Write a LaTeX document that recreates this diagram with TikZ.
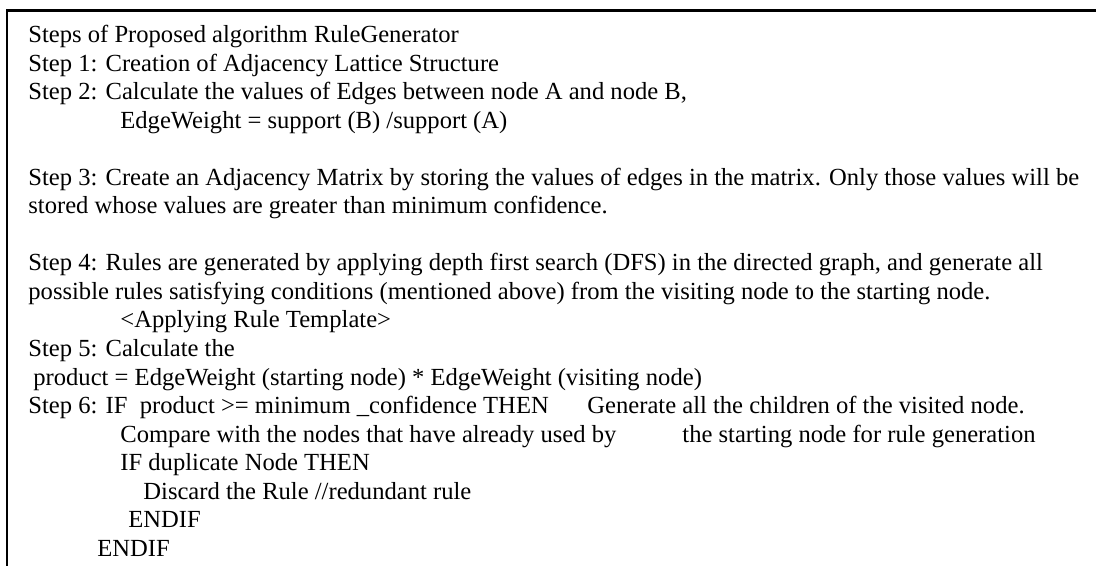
\documentclass[tikz,border=0pt]{standalone}
\usepackage{fontspec}
\setmainfont{Liberation Serif}
\usepackage{tikz}

\tikzset{
  algline/.style={anchor=base west, inner sep=0pt, font=\fontsize{12.3}{14.25}\selectfont},
  frameline/.style={line width=1.25pt}
}

\begin{document}
\begin{tikzpicture}[x=0.5pt, y=-0.5pt]
	\useasboundingbox (0, 0) rectangle (1096, 566) ;
\draw[frameline] (7, 566) -- (7, 10.7) -- (1096, 10.7) ; % frame 
\node[algline] (title) at (28, 43) {Steps of Proposed algorithm RuleGenerator}; % title 
\node[algline] (step1) at (28, 71.5) {Step 1: Creation of Adjacency Lattice Structure}; % step1 
\node[algline] (step2) at (28, 100) {Step 2: Calculate the values of Edges between node A and node B,}; % step2 
\node[algline] (weight) at (120, 128.5) {EdgeWeight = support (B) /support (A)}; % weight 
\node[algline] (step3) at (28, 185.5) {Step 3: Create an Adjacency Matrix by storing the values of edges in the matrix. Only those values will be}; % step3 
\node[algline] (step3b) at (28, 214) {stored whose values are greater than minimum confidence.}; % step3b 
\node[algline] (step4) at (28, 271) {Step 4: Rules are generated by applying depth first search (DFS) in the directed graph, and generate all}; % step4 
\node[algline] (step4b) at (28, 299.5) {\makebox[481pt][s]{possible rules satisfying conditions (mentioned above) from the visiting node to the starting node.}}; % step4b 
\node[algline] (template) at (120, 328) {<Applying Rule Template>}; % template 
\node[algline] (step5) at (28, 356.5) {Step 5: Calculate the}; % step5 
\node[algline] (product) at (33, 385) {product = EdgeWeight (starting node) * EdgeWeight (visiting node)}; % product 
\node[algline] (step6) at (28, 413.5) {Step 6: IF\ \ product >= minimum \_confidence THEN}; % step6 
\node[algline] (children) at (587, 413.5) {Generate all the children of the visited node.}; % children 
\node[algline] (compare) at (120, 442) {Compare with the nodes that have already used by}; % compare 
\node[algline] (startnode) at (682, 442) {the starting node for rule generation}; % startnode 
\node[algline] (dupl) at (120, 470.5) {IF duplicate Node THEN}; % dupl 
\node[algline] (discard) at (143, 499) {Discard the Rule //redundant rule}; % discard 
\node[algline] (endif1) at (128, 527.5) {ENDIF}; % endif1 
\node[algline] (endif2) at (97, 556) {ENDIF}; % endif2 
	\end{tikzpicture}
\end{document}
